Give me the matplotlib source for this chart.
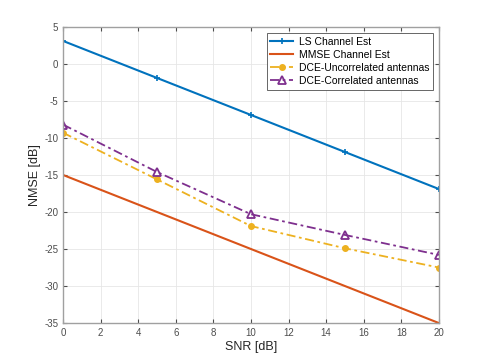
import matplotlib
matplotlib.use("Agg")
import matplotlib.pyplot as plt

# Data
snr = [0, 5, 10, 15, 20]
ls_est = [3.1, -1.9, -6.9, -11.9, -16.9]
mmse_est = [-15.0, -20.0, -25.0, -30.0, -35.0]
dce_uncorr = [-9.3, -15.6, -21.9, -24.9, -27.5]
dce_corr = [-8.2, -14.6, -20.3, -23.1, -25.8]

labels = ["LS Channel Est", "MMSE Channel Est",
          "DCE-Uncorrelated antennas", "DCE-Correlated antennas"]

plt.rcParams["font.family"] = ["Liberation Sans", "DejaVu Sans"]
plt.rcParams["axes.unicode_minus"] = False

fig = plt.figure(figsize=(4.85, 3.63), dpi=100)
ax = fig.add_axes([0.130, 0.110, 0.775, 0.816])

dashdot = (0, (5, 2, 1.5, 2))
ax.plot(snr, ls_est, color="#0072BD", lw=1.5, marker="+", ms=5, mew=1.2,
        label=labels[0])
ax.plot(snr, mmse_est, color="#D95319", lw=1.5, label=labels[1])
ax.plot(snr, dce_uncorr, color="#EDB120", lw=1.3, ls=dashdot, marker="o", ms=4,
        label=labels[2])
ax.plot(snr, dce_corr, color="#7E2F8E", lw=1.3, ls=dashdot, marker="^", ms=6,
        mfc="none", mew=1.3, label=labels[3])

ax.set_xlim(0, 20)
ax.set_ylim(-35, 5)
ax.set_xticks(range(0, 21, 2))
ax.set_yticks(range(-35, 6, 5))
ax.grid(True, color="#E6E6E6", lw=0.6)
ax.set_axisbelow(True)
ax.tick_params(direction="in", labelsize=7, colors="#4D4D4D", length=3,
               top=True, right=True)
for sp in ax.spines.values():
    sp.set_color("#A0A0A0")
    sp.set_linewidth(1.0)

ax.set_xlabel("SNR [dB]", fontsize=9, color="#262626", labelpad=2)
ax.set_ylabel("NMSE [dB]", fontsize=9, color="#262626", labelpad=2)

leg = ax.legend(loc="upper right", fontsize=7.5, fancybox=False,
                framealpha=1, edgecolor="#4D4D4D", borderpad=0.35,
                labelspacing=0.3, handlelength=2.2, handletextpad=0.5,
                borderaxespad=0.6)
leg.get_frame().set_linewidth(0.6)

plt.savefig("out.png", dpi=100)
plt.close()
